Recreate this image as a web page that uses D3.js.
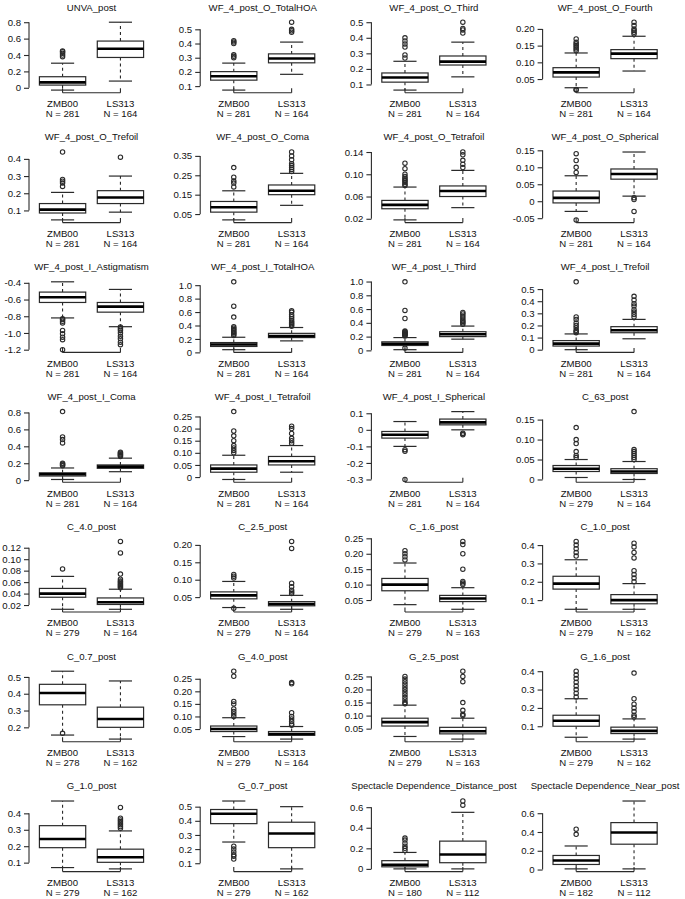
<!DOCTYPE html>
<html><head><meta charset="utf-8">
<script src="https://cdn.jsdelivr.net/npm/d3@7"></script>
<style>
body{margin:0;background:#fff}
svg{display:block}
text{font-family:"Liberation Sans",Arial,sans-serif;fill:#111}
</style>
</head><body><svg id="c" width="685" height="899"></svg>
<script>
const titles = ["UNVA_post","WF_4_post_O_TotalHOA","WF_4_post_O_Third","WF_4_post_O_Fourth",
"WF_4_post_O_Trefoil","WF_4_post_O_Coma","WF_4_post_O_Tetrafoil","WF_4_post_O_Spherical",
"WF_4_post_I_Astigmatism","WF_4_post_I_TotalHOA","WF_4_post_I_Third","WF_4_post_I_Trefoil",
"WF_4_post_I_Coma","WF_4_post_I_Tetrafoil","WF_4_post_I_Spherical","C_63_post",
"C_4.0_post","C_2.5_post","C_1.6_post","C_1.0_post",
"C_0.7_post","G_4.0_post","G_2.5_post","G_1.6_post",
"G_1.0_post","G_0.7_post","Spectacle Dependence_Distance_post","Spectacle Dependence_Near_post"];
const groups = ["ZMB00","LS313"];
const nZMB = [281,281,281,281,281,281,281,281,281,281,281,281,281,281,281,279,279,279,279,279,278,279,279,279,279,279,180,182];
const nLS  = [164,164,164,164,164,164,164,164,164,164,164,164,164,164,164,164,164,164,163,162,162,164,163,162,162,162,112,112];
const tickLabels = [
["0","0.2","0.4","0.6","0.8"],["0.1","0.2","0.3","0.4","0.5"],["0.1","0.2","0.3","0.4","0.5"],["0.05","0.10","0.15","0.20"],
["0.1","0.2","0.3","0.4"],["0.05","0.15","0.25","0.35"],["0.02","0.06","0.10","0.14"],["-0.05","0","0.05","0.10","0.15"],
["-1.2","-1.0","-0.8","-0.6","-0.4"],["0","0.2","0.4","0.6","0.8","1.0"],["0","0.2","0.4","0.6","0.8","1.0"],["0","0.1","0.2","0.3","0.4","0.5"],
["0","0.2","0.4","0.6","0.8"],["0","0.05","0.10","0.15","0.20","0.25"],["-0.3","-0.2","-0.1","0","0.1"],["0","0.05","0.10","0.15"],
["0.02","0.04","0.06","0.08","0.10","0.12"],["0.05","0.10","0.15","0.20"],["0.05","0.10","0.15","0.20","0.25"],["0.1","0.2","0.3","0.4"],
["0.2","0.3","0.4","0.5"],["0.05","0.10","0.15","0.20","0.25"],["0.05","0.10","0.15","0.20","0.25"],["0.1","0.2","0.3","0.4"],
["0.1","0.2","0.3","0.4"],["0.1","0.2","0.3","0.4","0.5"],["0","0.2","0.4","0.6"],["0","0.2","0.4","0.6"]];
// [lower whisker, Q1, median, Q3, upper whisker]
const zmbStats = [
[-0.028,0.033,0.066,0.135,0.30],[0.072,0.142,0.169,0.202,0.262],[0.064,0.115,0.145,0.174,0.249],[0.024,0.056,0.070,0.084,0.128],
[0.045,0.085,0.105,0.14,0.205],[0.02,0.06,0.085,0.115,0.17],[0.018,0.038,0.045,0.053,0.077],[-0.03,-0.005,0.01,0.03,0.075],
[-0.82,-0.635,-0.573,-0.511,-0.388],[0.04,0.088,0.117,0.146,0.225],[0.01,0.071,0.096,0.124,0.186],[0.0,0.03,0.05,0.075,0.13],
[0.008,0.049,0.069,0.087,0.144],[-0.01,0.02,0.035,0.05,0.09],[-0.1,-0.05,-0.03,-0.01,0.05],[0.005,0.02,0.027,0.035,0.05],
[0.0126,0.0336,0.040,0.049,0.070],[0.02,0.045,0.055,0.065,0.095],[0.035,0.08,0.1,0.12,0.17],[0.05,0.16,0.19,0.23,0.32],
[0.154,0.334,0.404,0.456,0.534],[0.02,0.04,0.05,0.062,0.095],[0.02,0.06,0.075,0.09,0.14],[0.04,0.1,0.13,0.16,0.25],
[0.07,0.191,0.244,0.325,0.475],[0.25,0.38,0.45,0.48,0.54],[0,0.02,0.04,0.08,0.16],[0.007,0.054,0.097,0.15,0.251]];
const lsStats = [
[0.082,0.37,0.476,0.57,0.80],[0.183,0.264,0.294,0.327,0.41],[0.149,0.225,0.247,0.283,0.372],[0.074,0.111,0.126,0.138,0.178],
[0.09,0.14,0.175,0.215,0.30],[0.095,0.15,0.17,0.2,0.26],[0.04,0.06,0.07,0.079,0.107],[0.015,0.065,0.08,0.095,0.145],
[-0.925,-0.751,-0.685,-0.635,-0.479],[0.171,0.22,0.244,0.283,0.37],[0.163,0.2,0.234,0.271,0.353],[0.09,0.14,0.16,0.19,0.25],
[0.1,0.14,0.16,0.18,0.26],[0.02,0.05,0.065,0.085,0.13],[0.0,0.03,0.045,0.065,0.11],[0.0,0.015,0.02,0.027,0.045],
[0.0126,0.021,0.025,0.0324,0.0476],[0.015,0.025,0.03,0.037,0.055],[0.02,0.045,0.055,0.065,0.09],[0.05,0.08,0.1,0.13,0.19],
[0.13,0.2,0.25,0.32,0.476],[0.01,0.025,0.03,0.04,0.06],[0.01,0.03,0.04,0.055,0.09],[0.03,0.06,0.075,0.095,0.14],
[0.062,0.102,0.133,0.182,0.293],[0.06,0.21,0.31,0.39,0.5],[0,0.06,0.14,0.27,0.55],[0.007,0.27,0.395,0.5,0.73]];
const zmbOutliers = [
[0.38,0.40,0.42,0.44,0.45],[0.30,0.31,0.32,0.40,0.41,0.42],[0.27,0.29,0.34,0.36,0.38,0.40],[0.017,0.019,0.135,0.14,0.145,0.15,0.155,0.16,0.17],
[0.24,0.26,0.27,0.28,0.44],[0.19,0.21,0.22,0.24,0.29],[0.08,0.082,0.085,0.088,0.09,0.093,0.096,0.1,0.11,0.12],[-0.055,0.085,0.1,0.12,0.14],
[-0.83,-0.84,-0.86,-0.88,-0.97,-1.01,-1.05,-1.08,-1.2],[0.25,0.27,0.29,0.3,0.32,0.34,0.36,0.38,0.526,0.687,1.05],[0.034,0.21,0.22,0.23,0.24,0.25,0.26,0.27,0.28,0.463,0.581,0.996],[0.14,0.15,0.16,0.18,0.2,0.22,0.25,0.27,0.56],
[0.17,0.18,0.19,0.2,0.44,0.48,0.51,0.81],[0.1,0.11,0.12,0.13,0.15,0.17,0.19,0.27],[-0.12,-0.13,-0.3],[0.055,0.06,0.07,0.09,0.1,0.13],
[0.083],[0.018,0.105,0.11,0.115],[0.18,0.19,0.2,0.21],[0.34,0.36,0.38,0.4,0.42],
[0.164],[0.1,0.11,0.12,0.13,0.15,0.16,0.26,0.28],[0.145,0.15,0.16,0.17,0.18,0.19,0.2,0.21,0.22,0.23,0.24,0.25],[0.26,0.28,0.3,0.32,0.34,0.36,0.38,0.4],
[],[0.13,0.15,0.16,0.18,0.2,0.22],[0.18,0.2,0.22,0.25,0.28,0.3],[0.375,0.43]];
const lsOutliers = [
[],[0.48,0.49,0.50,0.55],[0.43,0.45,0.46,0.50],[0.185,0.19,0.195,0.20,0.21,0.22],
[0.41],[0.27,0.28,0.29,0.3,0.31,0.33,0.35,0.37],[0.112,0.118,0.125,0.135,0.14],[-0.03,0.005,0.01],
[-0.93,-0.95,-0.97,-1.0,-1.04,-1.07,-1.11,-1.14],[0.39,0.41,0.43,0.45,0.47,0.5,0.53,0.56,0.6,0.62],[0.38,0.40,0.42,0.44,0.47,0.5,0.53,0.55],[0.27,0.29,0.31,0.33,0.36,0.38,0.41,0.44],
[0.28,0.29,0.3,0.31,0.32,0.33],[0.14,0.15,0.16,0.18,0.2,0.21],[-0.02,-0.025,-0.03],[0.05,0.055,0.06,0.065,0.07,0.075,0.17],
[0.05,0.052,0.054,0.056,0.058,0.06,0.062,0.065,0.074,0.111,0.131],[0.06,0.065,0.07,0.08,0.09,0.19,0.21],[0.1,0.105,0.11,0.15,0.2,0.23,0.24],[0.2,0.22,0.24,0.26,0.33,0.36,0.39,0.41],
[],[0.065,0.07,0.08,0.09,0.1,0.115,0.23,0.235],[0.1,0.105,0.12,0.15,0.23,0.25,0.27],[0.15,0.16,0.18,0.2,0.22,0.25,0.39],
[0.31,0.32,0.33,0.34,0.35,0.36,0.37,0.436],[],[0.62,0.66],[]];

const colW = 171.2, rowH = 129.8;
const plotL = 29, plotW = 125, plotT = 19.5, plotB = 92.8;
const ink = "#2a2a2a";
const svg = d3.select("#c");

titles.forEach((title, i) => {
  const col = i % 4, row = Math.floor(i / 4);
  const g = svg.append("g").attr("transform", `translate(${col*colW},${row*rowH})`);
  const stats = [zmbStats[i], lsStats[i]];
  const outs = [zmbOutliers[i], lsOutliers[i]];
  const all = stats.flat().concat(outs.flat());
  const lo = d3.min(all), hi = d3.max(all), pad = (hi - lo) * 0.04;
  const y = d3.scaleLinear().domain([lo - pad, hi + pad]).range([plotB, plotT]);
  const x = d3.scaleLinear().domain([0.42, 2.58]).range([plotL, plotL + plotW]);

  g.append("text").attr("x", plotL + plotW/2).attr("y", 10.5).attr("text-anchor","middle")
    .attr("font-size", 9.6).text(title);

  const tv = tickLabels[i].map(Number);
  const ax = g.append("g").attr("transform", `translate(${plotL},0)`)
    .call(d3.axisLeft(y).tickValues(tv).tickFormat((d,k)=>tickLabels[i][k]).tickSize(5).tickPadding(3).tickSizeOuter(0));
  ax.select(".domain").remove();
  ax.selectAll("line").attr("stroke",ink).attr("stroke-width",1.1);
  ax.selectAll("text").attr("font-size", 9.6).attr("font-family",'"Liberation Sans",Arial,sans-serif').attr("fill","#111");
  ax.append("line").attr("x1",0).attr("x2",0).attr("y1",y(d3.min(tv))).attr("y2",y(d3.max(tv))).attr("stroke",ink).attr("stroke-width",1.1);

  g.append("line").attr("x1",x(1)).attr("x2",x(2)).attr("y1",plotB).attr("y2",plotB).attr("stroke",ink).attr("stroke-width",1.1);
  [1,2].forEach(k=>{
    g.append("line").attr("x1",x(k)).attr("x2",x(k)).attr("y1",plotB).attr("y2",plotB-4.5).attr("stroke",ink).attr("stroke-width",1.1);
    g.append("text").attr("x",x(k)).attr("y",plotB+14.5).attr("text-anchor","middle").attr("font-size",9.6).text(groups[k-1]);
    g.append("text").attr("x",x(k)).attr("y",plotB+24.5).attr("text-anchor","middle").attr("font-size",9.6)
      .text("N = " + (k===1 ? nZMB[i] : nLS[i]));
  });

  stats.forEach((s, k) => {
    const cx = x(k+1), hw = x(1.4) - x(1), sw = hw/2;
    const [wl, q1, md, q3, wh] = s;
    g.append("line").attr("x1",cx).attr("x2",cx).attr("y1",y(q3)).attr("y2",y(wh)).attr("stroke",ink).attr("stroke-width",1.1).attr("stroke-dasharray","3,3");
    g.append("line").attr("x1",cx).attr("x2",cx).attr("y1",y(q1)).attr("y2",y(wl)).attr("stroke",ink).attr("stroke-width",1.1).attr("stroke-dasharray","3,3");
    g.append("line").attr("x1",cx-sw).attr("x2",cx+sw).attr("y1",y(wh)).attr("y2",y(wh)).attr("stroke",ink).attr("stroke-width",1.2);
    g.append("line").attr("x1",cx-sw).attr("x2",cx+sw).attr("y1",y(wl)).attr("y2",y(wl)).attr("stroke",ink).attr("stroke-width",1.2);
    g.append("rect").attr("x",cx-hw).attr("width",2*hw).attr("y",y(q3)).attr("height",y(q1)-y(q3))
      .attr("fill","#fff").attr("stroke",ink).attr("stroke-width",1.2);
    g.append("line").attr("x1",cx-hw).attr("x2",cx+hw).attr("y1",y(md)).attr("y2",y(md)).attr("stroke","#000").attr("stroke-width",2.6);
    g.selectAll(null).data(outs[k]).enter().append("circle")
      .attr("cx",cx).attr("cy",d=>y(d)).attr("r",2.2).attr("fill","none").attr("stroke",ink).attr("stroke-width",1.1);
  });
});
</script>
</body></html>
